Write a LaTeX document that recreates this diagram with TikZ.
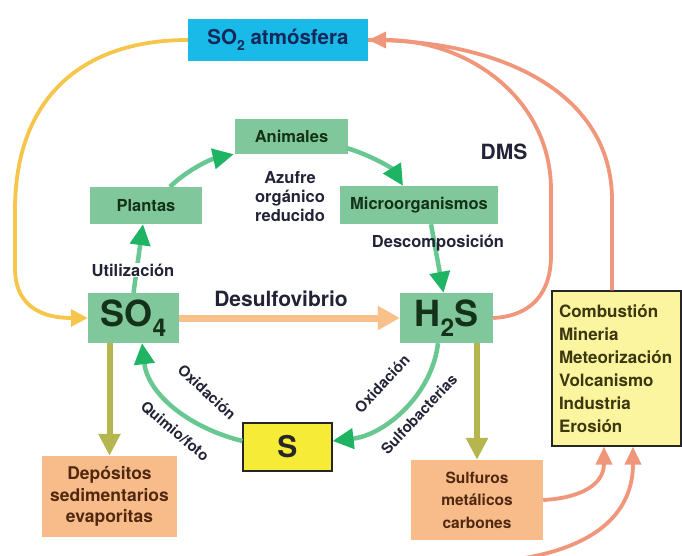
\documentclass[tikz,border=0pt]{standalone}
\usepackage{fontspec}
\usepackage{graphicx}
\setmainfont{TeX Gyre Heros}
\usetikzlibrary{arrows.meta}
\definecolor{gfill}{RGB}{128,200,155}
\definecolor{gtext}{RGB}{20,50,25}
\definecolor{cyanbox}{RGB}{25,185,232}
\definecolor{navytext}{RGB}{20,40,90}
\definecolor{labtext}{RGB}{35,35,55}
\definecolor{ofill}{RGB}{248,188,138}
\definecolor{otext}{RGB}{80,40,15}
\definecolor{sfill}{RGB}{246,236,55}
\definecolor{cfill}{RGB}{251,245,160}
\definecolor{ctext}{RGB}{60,55,15}
\definecolor{yline}{RGB}{245,198,75}
\definecolor{sline}{RGB}{240,150,122}
\definecolor{oline}{RGB}{248,192,138}
\definecolor{olline}{RGB}{182,182,80}
\definecolor{gline}{RGB}{105,200,145}
\definecolor{ghead}{RGB}{30,180,100}
\newcommand\lowsub[1]{\raisebox{-0.28em}{\scalebox{0.68}{#1}}}
\begin{document}
\begin{tikzpicture}[x=1pt,y=-1pt,
  every node/.style={font=\bfseries, inner sep=0pt},
  gbox/.style={fill=gfill, text=gtext, font=\bfseries\fontsize{16.5}{19}\selectfont},
  bigbox/.style={fill=gfill, text=gtext, font=\bfseries\fontsize{36}{40}\selectfont},
  obox/.style={fill=ofill, text=otext, align=center},
  lab/.style={text=labtext, font=\bfseries\fontsize{16.5}{19}\selectfont, align=center},
  arclab/.style={text=labtext, font=\bfseries\fontsize{15}{18}\selectfont},
  yarrow/.style={draw=yline, line width=3.8pt, -{Triangle[length=17pt,width=17pt]}},
  sarrow/.style={draw=sline, line width=3.8pt, -{Triangle[length=18pt,width=16pt]}},
  splain/.style={draw=sline, line width=3.8pt},
  oarrow/.style={draw=oline, line width=7pt, -{Triangle[length=22pt,width=23pt]}},
  olarrow/.style={draw=olline, line width=6pt, -{Triangle[length=22pt,width=21pt]}},
  garrow/.style={draw=gline, line width=4.5pt, -{Triangle[length=21pt,width=20pt,color=ghead]}}
]
\useasboundingbox (0,0) rectangle (682,556);

% nodes
\node[fill=cyanbox, text=navytext, minimum width=180, minimum height=42,
      font=\bfseries\fontsize{20.5}{24}\selectfont] (so2) at (278,40) {SO\lowsub{2} atmósfera};
\node[gbox, minimum width=113, minimum height=35] (anim) at (291.5,136.5) {Animales};
\node[gbox, minimum width=112, minimum height=37] (plant) at (146,205.5) {Plantas};
\node[gbox, minimum width=158, minimum height=38] (micro) at (419,205) {Microorganismos};
\node[bigbox, minimum width=91, minimum height=50] (so4) at (133.5,318) {SO\lowsub{4}};
\node[bigbox, minimum width=93, minimum height=50] (h2s) at (446.5,318) {H\lowsub{2}S};
\node[draw=black!85, line width=1.2pt, fill=cfill, text=ctext, minimum width=129, minimum height=155,
      text width=115, inner xsep=7pt, align=left,
      font=\bfseries\fontsize{17}{23}\selectfont] (comb) at (616.5,368.5)
      {Combustión\\Mineria\\Meteorización\\Volcanismo\\Industria\\Erosión};
\node[draw=black!85, line width=1.2pt, fill=sfill, text=black!85, minimum width=89, minimum height=48,
      font=\bfseries\fontsize{30}{34}\selectfont] (S) at (287.5,447) {S};
\node[obox, minimum width=135, minimum height=81, font=\bfseries\fontsize{17.5}{21.5}\selectfont]
      (dep) at (109.5,496.5) {Depósitos\\sedimentarios\\evaporitas};
\node[obox, minimum width=132, minimum height=80, font=\bfseries\fontsize{15.5}{22.5}\selectfont]
      (sulf) at (477,500) {Sulfuros\\metálicos\\carbones};

% connectors
\draw[yarrow] (so2.west) .. controls (80,40) and (15,100) .. (15,210) -- (15,268)
      .. controls (15,305) and (40,318) .. (so4.west);
\draw[splain] ([xshift=-4.5pt]comb.north) -- (612,200) .. controls (612,95) and (505,40) .. (so2.east);
\draw[sarrow] (h2s.east) .. controls (530,316) and (551,295) .. (551,255) -- (551,190)
      .. controls (551,100) and (470,40) .. (so2.east);
\draw[sarrow] (sulf.east) .. controls (580,498) and (604,485) .. ([xshift=-12.5pt]comb.south);
\coordinate (bstart) at (512,560);
\draw[sarrow] (bstart) .. controls (600,548) and (633,510) .. ([xshift=16.5pt]comb.south);
\draw[oarrow] (so4.east) -- (h2s.west);
\draw[olarrow] (so4.south -| dep.north) -- (dep.north);
\draw[olarrow] (h2s.south -| sulf.north) -- (sulf.north);
\draw[garrow] (so4.north) -- ([xshift=-3pt]plant.south);
\draw[garrow] ([xshift=24pt]plant.north) .. controls (185,172) and (208,160) .. ([xshift=-1pt]anim.south west);
\draw[garrow] ([xshift=-1pt,yshift=6pt]anim.south east) .. controls (370,155) and (392,168) .. ([xshift=-16pt]micro.north);
\draw[garrow] ([xshift=12pt]micro.south) -- ([xshift=-3pt]h2s.north);
\draw[garrow] ([xshift=-8.5pt]h2s.south) .. controls (432,395) and (385,435) .. ([yshift=6pt]S.east);
\draw[garrow] ([yshift=6pt]S.west) .. controls (190,428) and (148,395) .. ([xshift=8.5pt]so4.south);

% labels
\node[lab] (azufre) at (290,197) {Azufre\\orgánico\\reducido};
\node[lab, font=\bfseries\fontsize{21}{24}\selectfont] (dms) at (504,152) {DMS};
\node[lab] (desc) at (438,243) {Descomposición};
\node[lab, fill=white, inner sep=1pt] (util) at (133,270) {Utilización};
\node[lab, font=\bfseries\fontsize{21}{24}\selectfont] (desulf) at (281,299) {Desulfovibrio};
\node[arclab, rotate=-43] (oxl) at (207,392) {Oxidación};
\node[arclab, rotate=-40] (quim) at (175,431) {Quimio/foto};
\node[arclab, rotate=47] (oxr) at (382,384) {Oxidación};
\node[arclab, rotate=47] (sulfob) at (419,414) {Sulfobacterias};
\end{tikzpicture}
\end{document}
